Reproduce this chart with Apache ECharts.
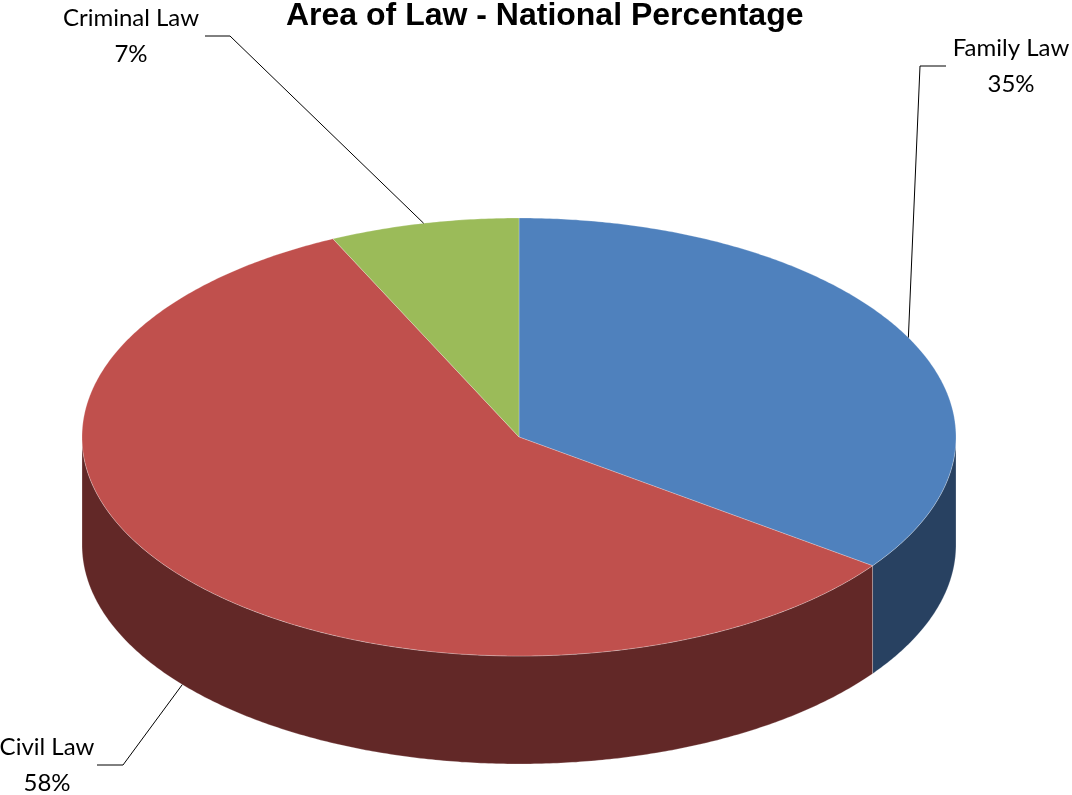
<!DOCTYPE html>
<html>
<head>
<meta charset="utf-8">
<title>Area of Law - National Percentage</title>
<script src="https://cdn.jsdelivr.net/npm/echarts@6/dist/echarts.min.js"></script>
<style>
  html, body { margin: 0; padding: 0; background: #fff; }
  #chart { width: 1072px; height: 795px; }
</style>
</head>
<body>
<div id="chart"></div>
<script>
// 数据
const categories = ['Family Law', 'Civil Law', 'Criminal Law']
const percentages = [35, 58, 7]
const topColors = ['#4F81BD', '#C0504D', '#9BBB59']
const sideColors = ['#284161', '#622827', '#4F6228']

// 饼图几何（椭圆 + 厚度）
const pie = { cx: 519, cy: 437, rx: 437, ry: 219, depth: 108 }
// 引导线拐点、终点与文字中心
const labelLayout = {
  'Family Law': { elbow: [920, 66], end: [946, 66], text: [1011, 66] },
  'Civil Law': { elbow: [123, 765], end: [97, 765], text: [47, 765] },
  'Criminal Law': { elbow: [230, 36], end: [205, 36], text: [131, 36] }
}

const total = percentages.reduce((a, b) => a + b, 0)
const startAngles = []
percentages.reduce((acc, v, i) => {
  startAngles[i] = acc
  return acc + (v / total) * 360
}, 0)

// 角度从12点方向顺时针计
const pointAt = (deg, dy = 0) => {
  const r = (deg * Math.PI) / 180
  return [pie.cx + pie.rx * Math.sin(r), pie.cy - pie.ry * Math.cos(r) + dy]
}
const arc = (a0, a1, dy) => {
  const pts = []
  const n = Math.max(2, Math.ceil(Math.abs(a1 - a0) / 0.5))
  for (let k = 0; k <= n; k++) pts.push(pointAt(a0 + ((a1 - a0) * k) / n, dy))
  return pts
}

const renderItem = (params, api) => {
  const i = params.dataIndex
  const v = api.value(0)
  const a0 = startAngles[i]
  const a1 = a0 + (v / total) * 360
  const children = []
  // 侧面（只画前半圈）
  const s = Math.max(a0, 90)
  const e = Math.min(a1, 270)
  if (e > s) {
    children.push({
      type: 'polygon',
      z2: 1,
      shape: { points: arc(s, e, 0).concat(arc(e, s, pie.depth)) },
      style: { fill: sideColors[i], stroke: 'rgba(255,255,255,0.3)', lineWidth: 0.8 }
    })
  }
  // 顶面
  children.push({
    type: 'polygon',
    z2: 2,
    shape: { points: [[pie.cx, pie.cy]].concat(arc(a0, a1, 0)) },
    style: { fill: topColors[i], stroke: 'rgba(255,255,255,0.3)', lineWidth: 0.8 }
  })
  // 引导线
  const mid = (a0 + a1) / 2
  const start = pointAt(mid, mid > 90 && mid < 270 ? pie.depth : 0)
  const lay = labelLayout[categories[i]]
  children.push({
    type: 'polyline',
    z2: 3,
    shape: { points: [start, lay.elbow, lay.end] },
    style: { stroke: '#000', lineWidth: 1, fill: null }
  })
  // 标签
  children.push({
    type: 'text',
    z2: 3,
    style: {
      text: categories[i] + '\n' + Math.round((v / total) * 100) + '%',
      x: lay.text[0],
      y: lay.text[1],
      align: 'center',
      verticalAlign: 'middle',
      font: '24px Lato',
      lineHeight: 36,
      fill: '#000'
    }
  })
  return { type: 'group', children }
}

const chart = echarts.init(document.getElementById('chart'))
chart.setOption({
  animation: false,
  title: {
    text: 'Area of Law - National Percentage',
    left: 286,
    top: 0,
    padding: 0,
    textStyle: {
      fontFamily: 'Liberation Sans',
      fontWeight: 'bold',
      fontSize: 32,
      color: '#000'
    }
  },
  series: [
    {
      type: 'custom',
      coordinateSystem: 'none',
      silent: true,
      renderItem,
      data: percentages.map((v, i) => ({ name: categories[i], value: v }))
    }
  ]
})
</script>
</body>
</html>
